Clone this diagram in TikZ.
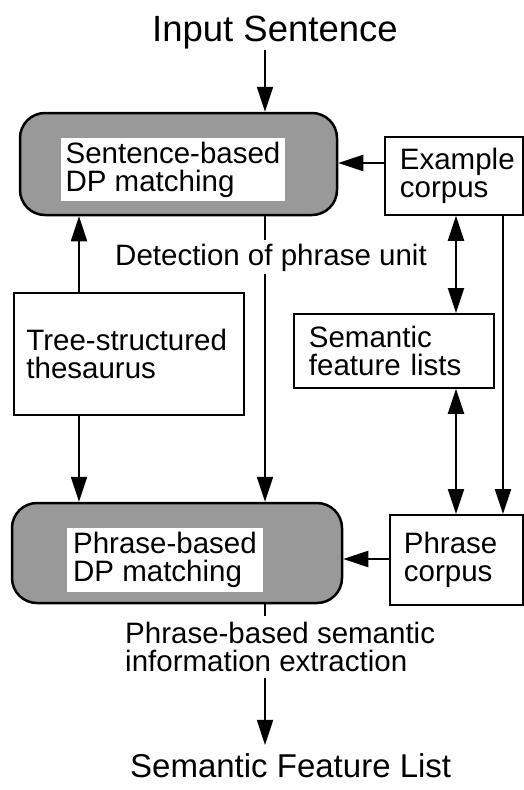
\documentclass[tikz,border=0pt]{standalone}
\usepackage{fontspec}
\setmainfont{Liberation Sans}
\usetikzlibrary{arrows.meta}
\begin{document}
\begin{tikzpicture}[x=1pt,y=-1pt,
  bx/.style={font=\fontsize{29.5}{28}\selectfont},
  plainbox/.style={draw, line width=1.8pt, fill=white, align=left, bx, inner ysep=0pt, anchor=north west},
  shaded/.style={draw, line width=2.5pt, fill=black!40, rounded corners=25pt, inner sep=0pt},
  win/.style={fill=white, align=left, bx, inner xsep=2pt, inner ysep=0pt},
  arr/.style={line width=2pt, -{Triangle[length=25pt,width=16pt]}},
  biarr/.style={line width=2pt, {Triangle[length=25pt,width=16pt]}-{Triangle[length=25pt,width=16pt]}},
  ln/.style={line width=2pt}]

\useasboundingbox (0,0) rectangle (523,790);

\node[font=\fontsize{36.5}{40}\selectfont, anchor=base west, inner sep=0pt] (in) at (152,41) {Input Sentence};

\node[shaded, minimum width=317pt, minimum height=102pt] (top) at (178.5,164) {};
\node[win, minimum width=224pt, minimum height=63pt] (toptxt) at (173,169.5) {Sentence-based\\DP matching};

\node[plainbox, text width=108pt, inner xsep=15pt, minimum height=78pt] (ex) at (384,136) {Example\\corpus};
\node[plainbox, text width=170pt, inner xsep=15pt, minimum height=74pt] (sfl) at (293,313) {Semantic\\feature lists};
\node[plainbox, text width=205pt, inner xsep=12.5pt, minimum height=122pt] (th) at (13,292) {Tree-structured\\thesaurus};
\node[plainbox, text width=105pt, inner xsep=14pt, minimum height=90pt] (pc) at (389,514) {Phrase\\corpus};

\node[shaded, minimum width=330pt, minimum height=100pt] (pb) at (177,553) {};
\node[win, minimum width=196pt, minimum height=64pt] (pbtxt) at (165,560) {Phrase-based\\DP matching};

\node[bx, anchor=base west, inner xsep=0pt, inner ysep=3pt] (det) at (115,265) {Detection of phrase unit};
\node[bx, anchor=north west, align=left, inner xsep=0pt, inner ysep=6pt] (ext) at (125,615.5) {Phrase-based semantic\\information extraction};

\node[font=\fontsize{33}{36}\selectfont, anchor=base west, inner sep=0pt] (out) at (130,777) {Semantic Feature List};

\coordinate (mid) at (265,0);
\coordinate (xb) at (456,0);
\coordinate (xc) at (503,0);
\coordinate (xe) at (79,0);
\coordinate (ya) at (0,163);
\coordinate (yd) at (0,559);

\draw[arr, shorten <=1.5pt] (in.south -| mid) -- (top.north -| mid);
\draw[arr] (ex.west |- ya) -- (top.east |- ya);
\draw[biarr] (ex.south -| xb) -- (sfl.north -| xb);
\draw[biarr] (sfl.south -| xb) -- (pc.north -| xb);
\draw[arr] (ex.south -| xc) -- (pc.north -| xc);
\draw[arr] (pc.west |- yd) -- (pb.east |- yd);
\draw[arr] (th.north -| xe) -- (top.south -| xe);
\draw[arr] (th.south -| xe) -- (pb.north -| xe);
\draw[ln] (top.south -| mid) -- (det.north -| mid);
\draw[arr] (det.south -| mid) -- (pb.north -| mid);
\draw[ln] (pb.south -| mid) -- (ext.north -| mid);
\draw[arr, shorten >=8pt] (ext.south -| mid) -- (out.north -| mid);
\end{tikzpicture}
\end{document}
